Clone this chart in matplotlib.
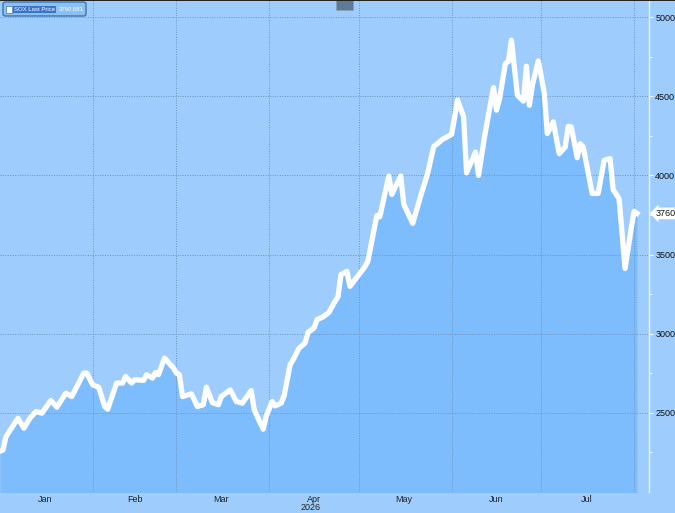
import datetime as dt
import matplotlib
matplotlib.use("Agg")
import matplotlib.pyplot as plt
import matplotlib.dates as mdates
from matplotlib.patches import Rectangle, FancyBboxPatch

# days after 2026-01-01 and SOX closing level
day_offsets = [0, 1, 2, 6, 8, 10, 12, 14, 17, 19, 22, 24, 28, 29, 31, 33, 35, 36, 39, 41,
               42, 44, 45, 48, 49, 51, 52, 53, 55, 58, 59, 60, 61, 64, 66, 68, 69, 71, 73, 74,
               77, 79, 81, 84, 85, 86, 88, 89, 91, 92, 94, 95, 97, 98, 100, 102, 103, 105, 106, 108,
               110, 112, 113, 114, 116, 117, 120, 122, 123, 126, 127, 130, 131, 134, 135, 138, 141, 143, 145, 148,
               151, 153, 155, 156, 159, 160, 162, 163, 165, 166, 167, 169, 170, 171, 173, 175, 176, 177, 178, 180,
               182, 183, 185, 187, 189, 190, 191, 193, 194, 195, 198, 200, 202, 204, 205, 207, 209, 211, 212, 213]
prices = [2258, 2265, 2350, 2466, 2403, 2466, 2508, 2498, 2578, 2536, 2624, 2603, 2751, 2751, 2677, 2662, 2540, 2523, 2688, 2688,
          2730, 2688, 2709, 2705, 2741, 2720, 2755, 2741, 2846, 2783, 2751, 2741, 2603, 2620, 2540, 2551, 2662, 2565, 2551, 2603,
          2645, 2572, 2561, 2641, 2519, 2477, 2397, 2477, 2572, 2544, 2561, 2608, 2804, 2835, 2909, 2941, 3008, 3036, 3089, 3106,
          3135, 3204, 3232, 3373, 3394, 3299, 3373, 3422, 3458, 3747, 3739, 3996, 3880, 3996, 3817, 3697, 3891, 4013, 4181, 4228,
          4259, 4476, 4371, 4016, 4147, 4000, 4243, 4348, 4555, 4412, 4480, 4707, 4720, 4854, 4506, 4469, 4690, 4443, 4570, 4723,
          4517, 4264, 4338, 4137, 4180, 4310, 4306, 4112, 4200, 4180, 3886, 3886, 4095, 4106, 3910, 3853, 3412, 3658, 3773, 3760]
months = ["Jan", "Feb", "Mar", "Apr", "May", "Jun", "Jul"]
y_ticks = [2500, 3000, 3500, 4000, 4500, 5000]
last_label = "3760"
legend_name = "SOX Last Price"
legend_value = "3760.681"

bg = "#9ecdfd"
fill_col = "#7dbdfd"
grid_col = "#6f93b8"
plt.rcParams["font.family"] = ["Liberation Sans", "DejaVu Sans"]

base = dt.date(2026, 1, 1)
dates = [base + dt.timedelta(days=d) for d in day_offsets]

fig = plt.figure(figsize=(6.75, 5.13), dpi=100, facecolor=bg)
ax = fig.add_axes([0, 21 / 513, 649 / 675, 492 / 513])
ax.set_facecolor(bg)

ax.fill_between(dates, prices, 1900, color=fill_col, lw=0, zorder=1)
ax.plot(dates, prices, color="white", lw=3.8, solid_joinstyle="round", zorder=3)

ax.set_xlim(mdates.date2num(base), mdates.date2num(base + dt.timedelta(days=217)))
ax.set_ylim(2000, 5108)

# month grid and labels
month_starts = [dt.date(2026, m, 1) for m in range(2, 9)]
for d in month_starts:
    ax.axvline(d, color=grid_col, lw=0.7, ls=(0, (1, 1.5)), zorder=2)
for yv in y_ticks:
    ax.axhline(yv, color=grid_col, lw=0.7, ls=(0, (1, 1.5)), zorder=2)

ax.set_xticks([])
ax.yaxis.tick_right()
ax.set_yticks(y_ticks)
ax.set_yticks([2250, 2750, 3250, 3750, 4250, 4750], minor=True)
ax.tick_params(axis="y", which="major", length=3, color="white", labelsize=6.5,
               labelcolor="#111111", pad=1.5)
ax.tick_params(axis="y", which="minor", length=2, color="white")
for s in ["top", "left", "bottom"]:
    ax.spines[s].set_visible(False)
ax.spines["right"].set_color("#e8f4ff")
ax.spines["right"].set_linewidth(1.0)

for i, m in enumerate(months):
    start = dt.date(2026, i + 1, 1)
    end = dt.date(2026, i + 2, 1)
    mid = start + (end - start) / 2
    ax.text(mid, -0.006, m, transform=ax.get_xaxis_transform(), ha="center", va="top",
            fontsize=6.5, color="#222222")

# year label under April, anchored to the bottom edge of the figure
x_disp = ax.transData.transform((mdates.date2num(dt.date(2026, 4, 15)), 2000))[0]
fig.text(x_disp / fig.bbox.width, 0.5 / 513, "2026", ha="center", va="bottom",
         fontsize=6.5, color="#222222")

# last value tag
ax.annotate(last_label, xy=(1.0, prices[-1]), xycoords=("axes fraction", "data"),
            xytext=(5, 0), textcoords="offset points", ha="left", va="center",
            fontsize=6.5, color="#111111",
            bbox=dict(boxstyle="larrow,pad=0.15", fc="white", ec="none"),
            annotation_clip=False)

# legend box
fig.patches.append(FancyBboxPatch((3 / 675, 497 / 513), 83 / 675, 14 / 513,
                                  boxstyle="round,pad=0,rounding_size=0.004",
                                  transform=fig.transFigure, fc="#8bc0f0", ec="#3d74b0", lw=1.0))
fig.patches.append(Rectangle((6 / 675, 500 / 513), 6 / 675, 7 / 513, transform=fig.transFigure,
                             fc="white", ec="#3d74b0", lw=0.5))
fig.text(14 / 675, 503.5 / 513, legend_name, fontsize=4.3, color="white", va="center", ha="left",
         bbox=dict(boxstyle="square,pad=0.1", fc="#3a74c8", ec="none"))
fig.text(59 / 675, 503.5 / 513, legend_value, fontsize=4.3, color="white", va="center", ha="left")

# small widget at top
fig.patches.append(Rectangle((336 / 675, 503 / 513), 17 / 675, 10 / 513, transform=fig.transFigure,
                             fc="#5f7a95", ec="#8aa0b5", lw=0.5))
fig.patches.append(Rectangle((0, 512 / 513), 1, 1 / 513, transform=fig.transFigure,
                             fc="#222222", ec="none"))

fig.savefig("out.png", dpi=100, facecolor=bg)
